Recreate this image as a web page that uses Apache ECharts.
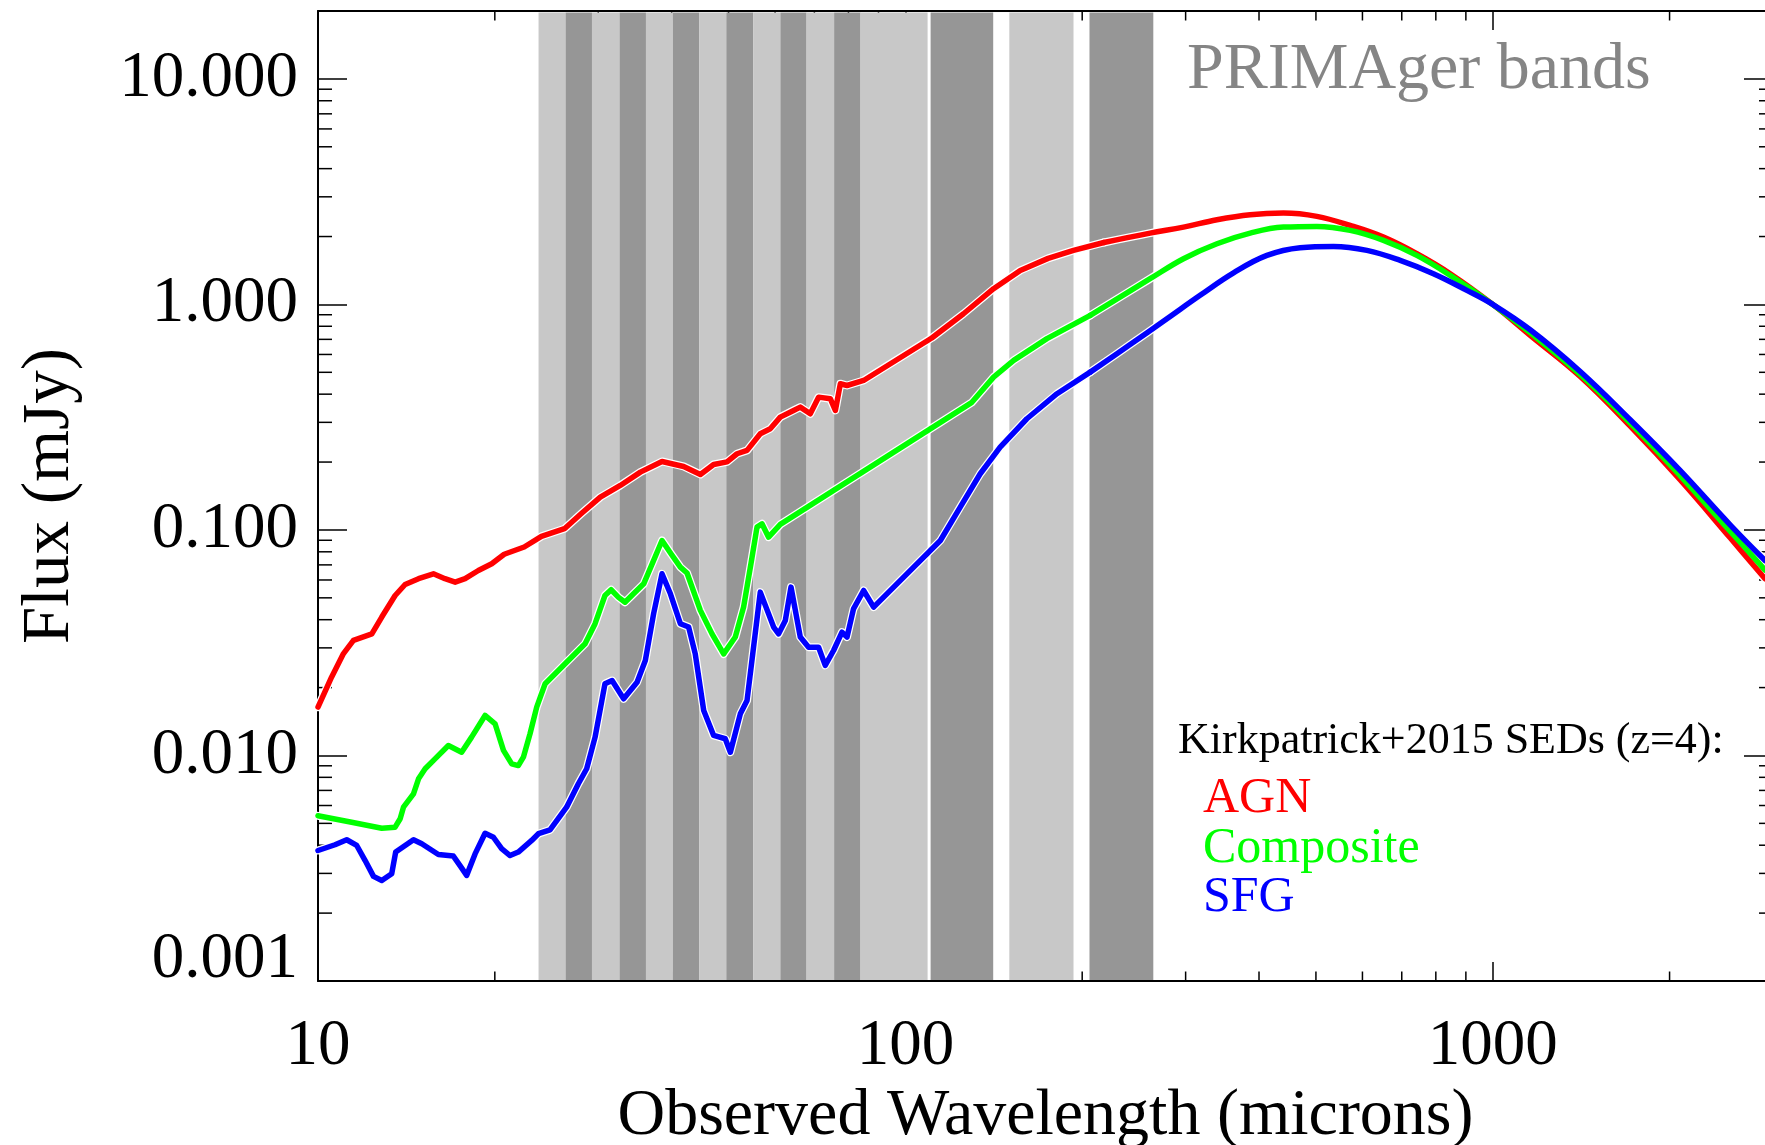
<!DOCTYPE html>
<html><head><meta charset="utf-8">
<script src="https://cdn.jsdelivr.net/npm/echarts@6/dist/echarts.min.js"></script>
<style>html,body{margin:0;padding:0;background:#fff}#chart{width:1765px;height:1145px}</style>
</head><body><div id="chart"></div>
<script>
// ---- data ----
const agnWave = [10, 10.55, 11.05, 11.49, 12.35, 12.84, 13.53, 14.07, 14.83, 15.72, 16.45, 17.12, 17.8, 18.75, 19.76, 20.75, 22.44, 24.01, 26.28, 28.11, 30.24, 32.71, 35.39, 38.52, 41.93, 44.77, 47.16, 49.71, 51.69, 53.76, 56.62, 58.88, 61.24, 64.52, 66.23, 68.88, 71.16, 74.5, 76.0, 77.5, 79.55, 84.9, 110.9, 125.6, 141.3, 156.9, 175, 193.3, 217.8, 261, 297.5, 339.2, 386.4, 440.3, 501.9, 571.8, 651.6, 742.6, 846.3, 1000, 1158, 1409, 1714, 2084, 2536, 2908];
const agnFlux = [0.0164, 0.0223, 0.0283, 0.0324, 0.0346, 0.0411, 0.0512, 0.0573, 0.0608, 0.0639, 0.0608, 0.0587, 0.0608, 0.0661, 0.0708, 0.078, 0.084, 0.0937, 0.1013, 0.1185, 0.1398, 0.1575, 0.1804, 0.2012, 0.1912, 0.1762, 0.1952, 0.2003, 0.2177, 0.2253, 0.267, 0.2811, 0.3164, 0.3388, 0.3504, 0.3275, 0.388, 0.382, 0.3388, 0.445, 0.437, 0.46, 0.71, 0.909, 1.174, 1.415, 1.6, 1.736, 1.882, 2.071, 2.202, 2.374, 2.499, 2.541, 2.456, 2.24, 1.988, 1.678, 1.368, 1.0, 0.729, 0.479, 0.2885, 0.167, 0.0923, 0.0607];

const compWave = [10, 11.41, 12.84, 13.53, 13.8, 13.98, 14.54, 14.83, 15.22, 15.82, 16.67, 17.56, 18.26, 19.25, 20.02, 20.69, 21.37, 21.93, 22.37, 22.96, 23.57, 24.36, 26.34, 28.49, 29.63, 30.8, 31.55, 32.45, 33.32, 34.45, 35.85, 37.23, 38.52, 39.9, 41.39, 42.49, 44.77, 46.86, 49.05, 51.34, 53.04, 54.82, 55.9, 57.0, 58.5, 61.24, 129.8, 141.3, 152.9, 174.2, 206.4, 261, 297.5, 339.2, 386.4, 440.3, 501.9, 571.8, 651.6, 742.6, 846.3, 1000, 1158, 1409, 1714, 2084, 2536, 2908];
const compFlux = [0.0054, 0.00506, 0.00476, 0.00481, 0.00524, 0.0059, 0.00676, 0.00788, 0.00873, 0.00966, 0.01107, 0.01034, 0.01206, 0.01505, 0.01382, 0.01053, 0.00918, 0.00902, 0.00983, 0.01248, 0.01638, 0.0208, 0.0255, 0.0313, 0.0384, 0.0512, 0.0543, 0.0504, 0.0478, 0.0521, 0.0577, 0.0727, 0.0898, 0.0784, 0.0684, 0.0644, 0.044, 0.0346, 0.0282, 0.0335, 0.0455, 0.0757, 0.1029, 0.1065, 0.0929, 0.1058, 0.368, 0.476, 0.5645, 0.705, 0.894, 1.30, 1.595, 1.858, 2.071, 2.202, 2.218, 2.129, 1.922, 1.649, 1.345, 1.0, 0.749, 0.489, 0.298, 0.1743, 0.0988, 0.0664];

const sfgWave = [10, 10.69, 11.19, 11.64, 12.03, 12.43, 12.84, 13.35, 13.56, 14.54, 15.02, 16.03, 17.0, 17.45, 17.91, 18.51, 19.25, 19.89, 20.54, 21.23, 21.93, 23.11, 23.73, 24.83, 26.5, 27.75, 28.67, 29.63, 30.8, 31.67, 33.14, 34.93, 36.08, 37.27, 38.52, 39.81, 41.39, 42.76, 43.88, 45.36, 47.16, 49.36, 50.35, 52.36, 53.76, 56.62, 59.66, 60.84, 62.46, 63.87, 66.23, 68.43, 71.16, 73.04, 75.47, 78.0, 79.55, 81.6, 84.9, 88.3, 114.7, 124, 134.1, 145, 161, 181.2, 206.4, 240, 278.8, 318, 362, 412.6, 470, 535.6, 610.6, 695.7, 792.5, 903.5, 1000, 1158, 1409, 1714, 2084, 2536, 2908];
const sfgFlux = [0.00379, 0.00402, 0.00423, 0.00399, 0.00342, 0.00291, 0.00279, 0.00299, 0.00373, 0.00423, 0.00406, 0.00364, 0.00358, 0.00325, 0.00294, 0.00366, 0.00452, 0.00434, 0.00386, 0.0036, 0.00373, 0.0042, 0.0045, 0.00468, 0.0059, 0.00749, 0.00873, 0.01206, 0.0208, 0.0215, 0.01784, 0.02113, 0.02638, 0.0425, 0.0639, 0.0521, 0.0384, 0.0371, 0.0282, 0.01583, 0.01227, 0.01186, 0.01034, 0.0153, 0.01753, 0.053, 0.0371, 0.0346, 0.0397, 0.0558, 0.0335, 0.0302, 0.0302, 0.0251, 0.0292, 0.0352, 0.0335, 0.0447, 0.0539, 0.0455, 0.0898, 0.1263, 0.1775, 0.233, 0.3112, 0.4018, 0.501, 0.657, 0.864, 1.10, 1.38, 1.649, 1.784, 1.808, 1.736, 1.567, 1.368, 1.154, 1.0, 0.772, 0.504, 0.308, 0.1836, 0.1054, 0.0732];

// PRIMAger bands (microns)
const bandStart = [23.74, 26.39, 29.27, 32.61, 36.17, 40.21, 44.60, 49.56, 55.10, 61.26, 67.89, 75.63, 83.89, 110.4, 150.3, 205.8];
const bandEnd   = [26.39, 29.27, 32.61, 36.17, 40.21, 44.60, 49.56, 55.10, 61.26, 67.89, 75.63, 83.89, 109.1, 141.1, 193.3, 264.3];
const bandKind  = ['light','dark','light','dark','light','dark','light','dark','light','dark','light','dark','light','dark','light','dark'];

// ticks
const xTickLabels = ['10', '100', '1000'];
const yTickLabels = ['0.001', '0.010', '0.100', '1.000', '10.000'];
const xMinorTicks = [20, 30, 40, 50, 60, 70, 80, 90, 200, 300, 400, 500, 600, 700, 800, 900, 2000, 3000];
const yMinorTicks = [0.002, 0.003, 0.004, 0.005, 0.006, 0.007, 0.008, 0.009,
                     0.02, 0.03, 0.04, 0.05, 0.06, 0.07, 0.08, 0.09,
                     0.2, 0.3, 0.4, 0.5, 0.6, 0.7, 0.8, 0.9,
                     2, 3, 4, 5, 6, 7, 8, 9];

// ---- styles ----
const SERIF = "'Liberation Serif', 'Times New Roman', serif";
const bandColors = { light: '#c8c8c8', dark: '#969696' };
const smoothFrom = 200;   // the smooth far-IR part of each SED is drawn as a spline
const seriesDefs = [
  { name: 'AGN', wave: agnWave, flux: agnFlux, color: '#ff0000' },
  { name: 'Composite', wave: compWave, flux: compFlux, color: '#00ff00' },
  { name: 'SFG', wave: sfgWave, flux: sfgFlux, color: '#0000ff' }
];
const zip = (a, b) => a.map((v, i) => [v, b[i]]);
const isDecade = v => { const e = Math.log10(v); return Math.abs(e - Math.round(e)) < 1e-6; };

const chart = echarts.init(document.getElementById('chart'), null, { renderer: 'canvas' });

const axisLineStyle = { show: true, lineStyle: { color: '#000', width: 2 } };
const xAxisCommon = {
  type: 'log', logBase: 10, min: 10, max: 3000,
  axisLine: axisLineStyle,
  axisTick: { show: true, inside: true, length: 19, lineStyle: { color: '#000', width: 1.5 } },
  splitLine: { show: false }, minorTick: { show: false }, minorSplitLine: { show: false }
};
const yAxisCommon = {
  type: 'log', logBase: 10, min: 0.001, max: 20,
  axisLine: axisLineStyle,
  axisTick: { show: true, inside: true, length: 29, lineStyle: { color: '#000', width: 1.5 } },
  splitLine: { show: false }, minorTick: { show: false }, minorSplitLine: { show: false }
};

const series = [];
// PRIMAger bands
series.push({
  type: 'custom', name: 'bands', z: 2, silent: true,
  data: bandStart.map((s, i) => [s, bandEnd[i], 1]),
  encode: { x: [0, 1], y: 2 },
  renderItem: (params, api) => {
    const cs = params.coordSys;
    const x0 = api.coord([api.value(0), 1])[0];
    const x1 = api.coord([api.value(1), 1])[0];
    return { type: 'rect', shape: { x: x0, y: cs.y + 1.5, width: x1 - x0, height: cs.height - 2.5 },
             style: { fill: bandColors[bandKind[params.dataIndex]] } };
  }
});
// minor ticks, x (bottom + top)
series.push({
  type: 'custom', name: 'xminor', z: 1, silent: true,
  data: xMinorTicks.map(v => [v, 1]), encode: { x: 0, y: 1 },
  renderItem: (params, api) => {
    const cs = params.coordSys;
    const px = api.coord([api.value(0), 1])[0];
    const b = cs.y + cs.height, t = cs.y;
    const st = { stroke: '#000', lineWidth: 1.5 };
    return { type: 'group', children: [
      { type: 'line', shape: { x1: px, y1: b, x2: px, y2: b - 9.5 }, style: st },
      { type: 'line', shape: { x1: px, y1: t, x2: px, y2: t + 9.5 }, style: st }
    ] };
  }
});
// minor ticks, y (left + right)
series.push({
  type: 'custom', name: 'yminor', z: 1, silent: true,
  data: yMinorTicks.map(v => [10, v]), encode: { x: 0, y: 1 },
  renderItem: (params, api) => {
    const cs = params.coordSys;
    const py = api.coord([10, api.value(1)])[1];
    const l = cs.x, r = cs.x + cs.width;
    const st = { stroke: '#000', lineWidth: 1.5 };
    return { type: 'group', children: [
      { type: 'line', shape: { x1: l, y1: py, x2: l + 14, y2: py }, style: st },
      { type: 'line', shape: { x1: r, y1: py, x2: r - 14, y2: py }, style: st }
    ] };
  }
});

function pieces(d) {
  const pts = zip(d.wave, d.flux);
  const k = d.wave.findIndex(w => w >= smoothFrom);
  return [ { data: pts.slice(0, k + 1), smooth: false }, { data: pts.slice(k), smooth: 0.4 } ];
}
// white halos under all curves
seriesDefs.forEach(d => pieces(d).forEach(p => series.push({
  type: 'line', name: d.name + '-halo', data: p.data, smooth: p.smooth, z: 3, silent: true,
  showSymbol: false, symbol: 'none',
  lineStyle: { color: '#ffffff', width: 8, join: 'round', cap: 'round' }
})));
// coloured curves
seriesDefs.forEach(d => pieces(d).forEach(p => series.push({
  type: 'line', name: d.name, data: p.data, smooth: p.smooth, z: 4, silent: true,
  showSymbol: false, symbol: 'none',
  lineStyle: { color: d.color, width: 5.5, join: 'round', cap: 'round' }
})));

const option = {
  animation: false,
  backgroundColor: '#ffffff',
  grid: { left: 318, top: 11, right: -8, bottom: 164, containLabel: false, outerBoundsMode: 'none' },
  xAxis: [
    Object.assign({}, xAxisCommon, {
      position: 'bottom',
      name: 'Observed Wavelength (microns)', nameLocation: 'middle', nameGap: 98,
      nameTextStyle: { fontFamily: SERIF, fontSize: 66, color: '#000' },
      axisLabel: { show: true, margin: 33, fontFamily: SERIF, fontSize: 65, color: '#000',
        showMinLabel: true, showMaxLabel: false, hideOverlap: false,
        formatter: v => isDecade(v) ? (xTickLabels[Math.round(Math.log10(v)) - 1] || '') : '' }
    }),
    Object.assign({}, xAxisCommon, { position: 'top', axisLabel: { show: false } })
  ],
  yAxis: [
    Object.assign({}, yAxisCommon, {
      position: 'left',
      name: 'Flux (mJy)', nameLocation: 'middle', nameGap: 234,
      nameTextStyle: { fontFamily: SERIF, fontSize: 67, color: '#000' },
      axisLabel: { show: true, margin: 20, fontFamily: SERIF, fontSize: 65, color: '#000',
        showMinLabel: true, showMaxLabel: false, hideOverlap: false,
        formatter: v => {
          if (!isDecade(v)) return '';
          const i = Math.round(Math.log10(v)) + 3;
          const s = yTickLabels[i] || '';
          return i === 0 ? '{lo|' + s + '}' : s;
        },
        rich: { lo: { fontFamily: SERIF, fontSize: 65, color: '#000', padding: [0, 0, 42, 0] } }
      }
    }),
    Object.assign({}, yAxisCommon, { position: 'right', axisLabel: { show: false } })
  ],
  series: series,
  graphic: [
    { type: 'text', x: 1187, y: 71, z: 10, silent: true,
      style: { text: 'PRIMAger bands', fill: '#858585', font: '66px ' + SERIF, align: 'left', verticalAlign: 'middle' } },
    { type: 'text', x: 1178, y: 741.5, z: 10, silent: true,
      style: { text: 'Kirkpatrick+2015 SEDs (z=4):', fill: '#000000', font: '44px ' + SERIF, align: 'left', verticalAlign: 'middle' } },
    { type: 'text', x: 1203, y: 798.5, z: 10, silent: true,
      style: { text: 'AGN', fill: '#ff0000', font: '50px ' + SERIF, align: 'left', verticalAlign: 'middle' } },
    { type: 'text', x: 1203, y: 848.5, z: 10, silent: true,
      style: { text: 'Composite', fill: '#00ff00', font: '50px ' + SERIF, align: 'left', verticalAlign: 'middle' } },
    { type: 'text', x: 1203, y: 897.5, z: 10, silent: true,
      style: { text: 'SFG', fill: '#0000ff', font: '50px ' + SERIF, align: 'left', verticalAlign: 'middle' } }
  ]
};
chart.setOption(option);
</script>
</body></html>
